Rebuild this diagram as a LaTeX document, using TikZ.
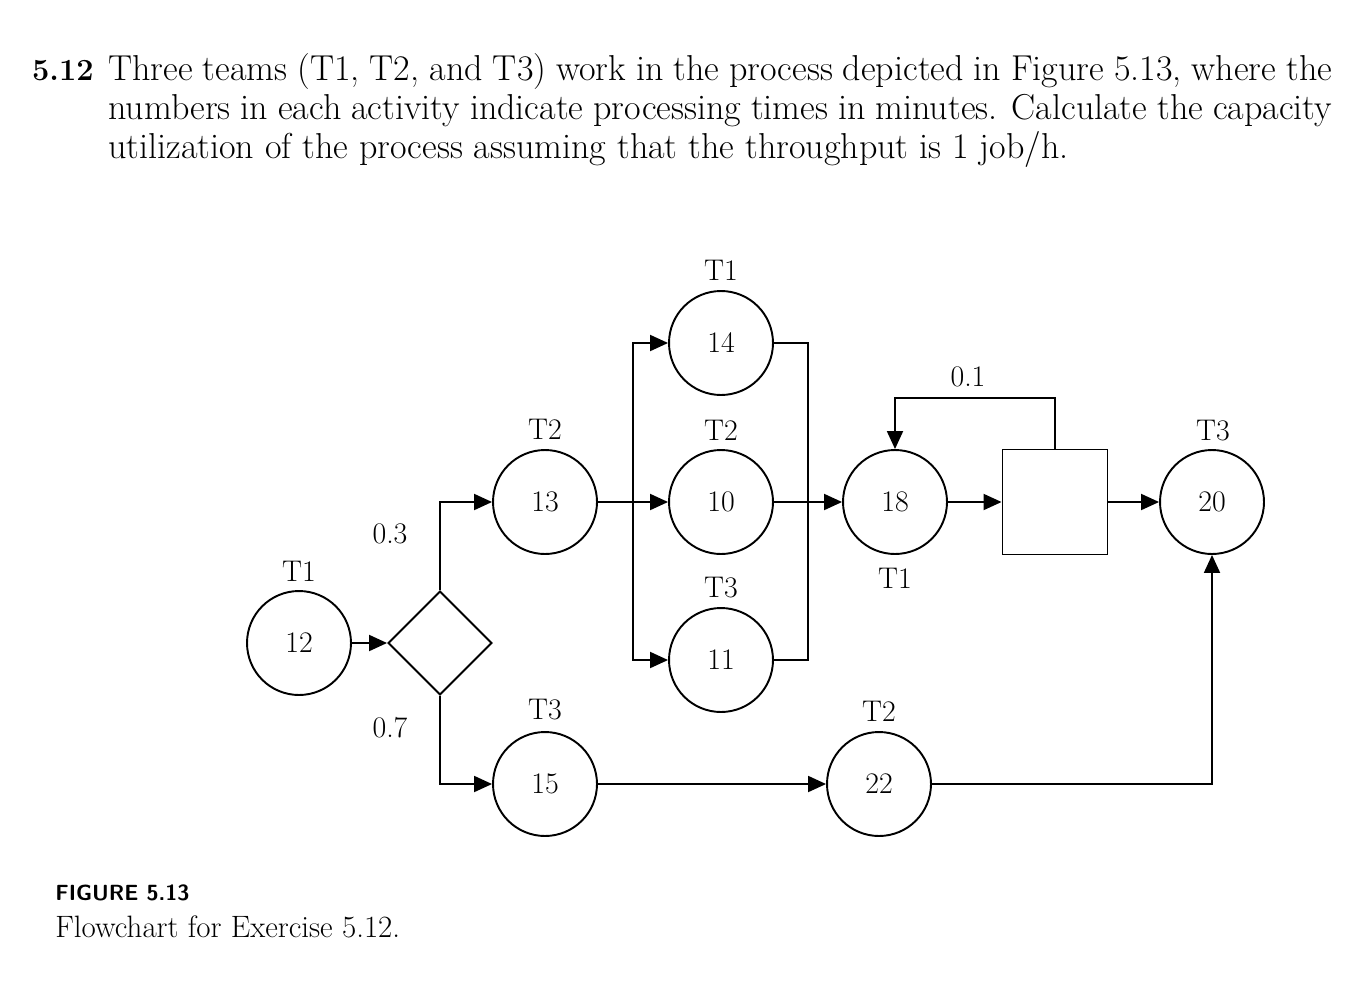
\documentclass[tikz,border=0pt]{standalone}
\usepackage{amsmath,amssymb}
\usepackage{tikz}
\usetikzlibrary{shapes.geometric,arrows.meta}
\newcommand{\bodyfont}{\fontsize{20.5}{24}\selectfont}
\newcommand{\chartfont}{\fontsize{17}{20}\selectfont}
\begin{document}
\begin{tikzpicture}[x=0.02cm,y=-0.02cm,
  act/.style={draw,circle,line width=1.1pt,minimum size=2.08cm,inner sep=0pt,font=\chartfont},
  gate/.style={draw,diamond,line width=1.1pt,minimum width=2.08cm,minimum height=2.08cm,inner sep=0pt},
  hold/.style={draw,rectangle,line width=1.1pt,minimum size=2.1cm,inner sep=0pt},
  tag/.style={inner sep=0pt,font=\chartfont},
  flow/.style={line width=1.1pt,-{Triangle[length=0.36cm,width=0.32cm]}},
  plain/.style={line width=1.1pt}]
  \useasboundingbox (0,0) rectangle (1368,1004);
  \node[anchor=base east,inner sep=0pt,font=\fontsize{17.5}{24}\selectfont\bfseries] (num) at (94,80) {5.12};
  \node[anchor=base west,inner sep=0pt,font=\bodyfont] (ln1) at (108,80)
       {\makebox[24.48cm][s]{Three teams (T1, T2, and T3) work in the process depicted in Figure 5.13, where the}};
  \node[anchor=base west,inner sep=0pt,font=\bodyfont] (ln2) at (108,119)
       {\makebox[24.48cm][s]{numbers in each activity indicate processing times in minutes. Calculate the capacity}};
  \node[anchor=base west,inner sep=0pt,font=\bodyfont] (ln3) at (108,158)
       {utilization of the process assuming that the throughput is 1 job/h.};

  \node[act] (a12) at (299,643) {12};
  \node[gate] (dec) at (440,643) {};
  \node[act] (a13) at (545,502) {13};
  \node[act] (a15) at (545,784) {15};
  \node[act] (a14) at (721,343) {14};
  \node[act] (a10) at (721,502) {10};
  \node[act] (a11) at (721,660) {11};
  \node[act] (a18) at (895,502) {18};
  \node[hold] (chk) at (1055,502) {};
  \node[act] (a20) at (1212,502) {20};
  \node[act] (a22) at (879,784) {22};

  \node[tag] (t12) at (299,571) {T1};
  \node[tag] (t13) at (545,429) {T2};
  \node[tag] (t15) at (545,710) {T3};
  \node[tag] (t14) at (721,270) {T1};
  \node[tag] (t10) at (721,430) {T2};
  \node[tag] (t11) at (721,588) {T3};
  \node[tag] (t18) at (895,578) {T1};
  \node[tag] (t20) at (1213,431) {T3};
  \node[tag] (t22) at (879,711) {T2};
  \node[tag] (p03) at (390,534) {0.3};
  \node[tag] (p07) at (390,728) {0.7};
  \node[tag] (p01) at (968,377) {0.1};

  \coordinate (sp) at (633,502);
  \coordinate (mg) at (808,502);
  \coordinate (fb) at (1055,398);

  \draw[flow] (a12) -- (dec);
  \draw[flow] (dec.north) |- (a13);
  \draw[flow] (dec.south) |- (a15);
  \draw[flow] (a13) -- (a10);
  \draw[flow] (sp) |- (a14);
  \draw[flow] (sp) |- (a11);
  \draw[plain] (a14) -| (mg);
  \draw[plain] (a11) -| (mg);
  \draw[flow] (a10) -- (a18);
  \draw[flow] (a18) -- (chk);
  \draw[flow] (chk.north) -- (fb) -| (a18);
  \draw[flow] (chk) -- (a20);
  \draw[flow] (a15) -- (a22);
  \draw[flow] (a22) -| (a20);

  \node[anchor=base west,inner sep=0pt,font=\sffamily\bfseries\fontsize{12.5}{15}\selectfont] (fig) at (55,900) {FIGURE 5.13};
  \node[anchor=base west,inner sep=0pt,font=\fontsize{17.6}{20}\selectfont] (cap) at (55,937) {Flowchart for Exercise 5.12.};
\end{tikzpicture}
\end{document}
